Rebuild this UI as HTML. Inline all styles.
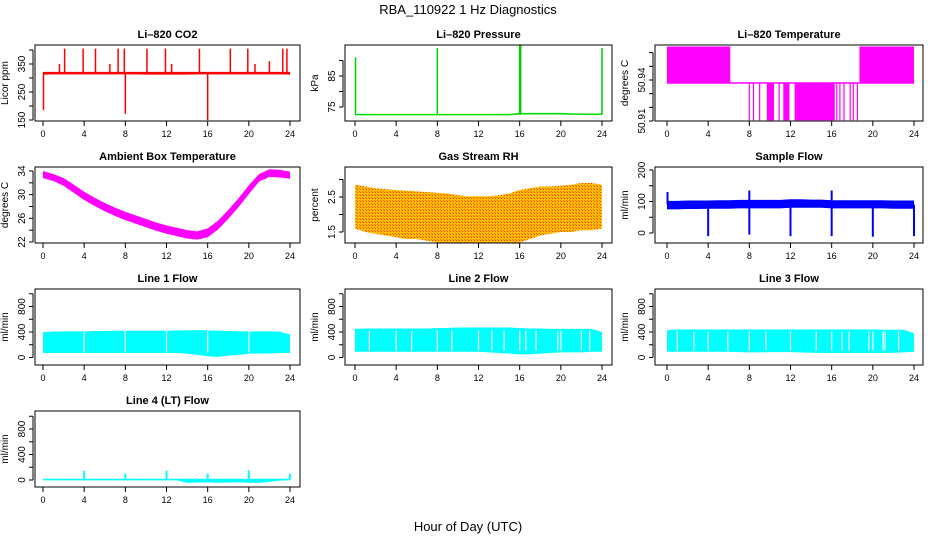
<!DOCTYPE html>
<html><head><meta charset="utf-8"><style>
body{margin:0;background:#fff;}
svg{display:block;font-family:"Liberation Sans",sans-serif;}
</style></head><body>
<svg id="chart" width="936" height="540" viewBox="0 0 936 540">
<defs>
<pattern id="rhpat" width="3" height="3" patternUnits="userSpaceOnUse"><rect width="3" height="3" fill="#ffc000"/><rect width="1" height="1" fill="#ff3000"/><rect x="2" y="2" width="1" height="1" fill="#ff6000"/></pattern>
</defs>
<text x="468" y="14" font-size="13" text-anchor="middle">RBA_110922  1 Hz Diagnostics</text>
<text x="468" y="531" font-size="13" text-anchor="middle">Hour of Day (UTC)</text>
</svg>
<script>
// ---- data (hourly band lo/hi at hours 0..24) ----
const hours = [0,1,2,3,4,5,6,7,8,9,10,11,12,13,14,15,16,17,18,19,20,21,22,23,24];
const xTicks = [0,4,8,12,16,20,24];

const co2Lo = [312,313,313,313,313,313,313,313,313,313,312,312,312,312,312,313,313,313,313,313,313,313,313,313,312];
const co2Hi = [322,322,322,322,322,322,322,322,322,322,322,322,322,322,322,322,322,322,322,322,322,322,322,322,322];
const co2SpikeH = [0.05,2.1,3.9,5.1,7.3,7.9,8.0,10.1,11.9,15.2,16.0,18.2,19.9,23.3,23.7,1.6,6.5,12.5,20.6,22.0];
const co2SpikeV = [185,405,405,405,405,405,172,405,405,405,150,405,405,405,405,350,350,350,350,360];

const presLo = [72.3,72.3,72.3,72.3,72.3,72.3,72.3,72.3,72.3,72.3,72.3,72.3,72.3,72.3,72.3,72.3,72.6,72.6,72.6,72.6,72.6,72.5,72.4,72.4,72.4];
const presHi = [72.8,72.8,72.8,72.8,72.8,72.8,72.8,72.8,72.8,72.8,72.8,72.8,72.8,72.8,72.8,72.8,73.1,73.1,73.1,73.1,73.1,73.0,72.9,72.9,72.9];
const presSpikeH = [0.05,8.0,16.0,16.1,24.0];
const presSpikeV = [91,94,95,95,94];

const tempHighStart = [0,18.7];
const tempHighEnd = [6.15,24];
const tempBlockStart = [9.7,11.3,12.4];
const tempBlockEnd = [10.4,11.9,16.3];
const tempDipH = [8.0,8.4,9.0,10.9,16.5,16.8,17.2,17.8,18.1,18.5];
const tempLevels = [50.9105,50.9378,50.9645];

const ambLo = [32.8,32.3,31.5,30.3,29.1,28.1,27.2,26.4,25.7,25.1,24.5,23.9,23.4,23.0,22.6,22.4,22.8,24.1,25.9,27.9,30.1,32.2,33.0,32.9,32.7];
const ambHi = [34.0,33.5,32.8,31.7,30.5,29.5,28.6,27.8,27.1,26.5,25.9,25.3,24.8,24.4,24.0,23.8,24.3,25.6,27.4,29.4,31.6,33.5,34.3,34.2,33.9];

const rhLo = [1.6,1.5,1.45,1.4,1.35,1.3,1.3,1.25,1.2,1.2,1.2,1.2,1.15,1.15,1.2,1.15,1.2,1.3,1.4,1.45,1.5,1.5,1.55,1.55,1.6];
const rhHi = [2.85,2.8,2.75,2.72,2.7,2.68,2.66,2.64,2.62,2.6,2.55,2.52,2.52,2.52,2.55,2.6,2.7,2.75,2.8,2.8,2.82,2.85,2.9,2.9,2.85];

const sfLo = [75,75,76,76,77,77,77,78,78,78,78,78,80,80,80,80,78,78,78,78,78,78,77,77,77];
const sfHi = [102,102,103,103,103,104,104,105,105,105,105,105,107,107,106,106,104,104,104,104,104,104,103,103,103];
const sfSpikeH = [0.05,4.0,8.0,8.0,12.0,16.0,16.0,20.0,24.0];
const sfSpikeV = [130,-10,135,-5,-10,135,-10,-12,-10];

const l1Lo = [70,70,70,70,70,70,70,70,70,70,70,70,70,70,60,40,20,10,30,40,60,60,60,70,70];
const l1Hi = [400,405,410,410,410,415,415,420,420,420,420,420,420,425,425,430,425,420,415,410,410,410,410,405,360];
const l1GapH = [4.0,8.0,12.0,16.0,20.0];

const l2Lo = [90,90,90,90,90,90,90,90,90,90,90,90,90,80,70,60,50,50,60,70,80,80,80,90,90];
const l2Hi = [450,455,455,455,455,455,455,455,460,465,470,470,470,470,470,470,460,455,455,450,450,450,450,450,400];
const l2GapH = [1.4,4.0,5.5,8.0,9.4,12.0,13.3,14.5,16.0,16.6,17.6,19.7,20.0,22.0,22.8];

const l3Lo = [90,90,90,90,90,90,90,85,80,80,85,85,85,80,75,70,70,70,70,70,70,70,75,80,90];
const l3Hi = [430,440,440,440,440,440,440,440,440,440,440,440,440,440,440,440,440,440,440,440,440,435,435,435,380];
const l3GapH = [1.0,2.6,4.0,5.9,8.0,9.6,12.0,14.5,16.0,17.0,17.7,19.6,20.0,21.0,21.2,22.5];

const l4Lo = [-5,-5,-5,-5,-5,-5,-5,-5,-5,-5,-5,-5,-5,-5,-45,-40,-35,-45,-40,-35,-45,-45,-30,-10,-5];
const l4Hi = [20,20,20,20,20,20,20,20,20,20,20,20,20,20,20,20,20,20,20,20,20,20,20,20,20];
const l4SpikeH = [4.0,8.0,12.0,16.0,20.0,24.0];
const l4SpikeV = [145,100,145,100,150,100];

// ---- layout ----
const colL=[35,345,655], colR=[300,612,923], colX0=[43,355,667], colX24=[290,602,914];
const rowT=[45,167,289,411], boxH=76;
const svg=document.getElementById('chart');
const NS='http://www.w3.org/2000/svg';
function mk(tag,attrs,parent){const e=document.createElementNS(NS,tag);for(const k in attrs)e.setAttribute(k,attrs[k]);(parent||svg).appendChild(e);return e;}

function panel(name,title,ylab,col,row,v1,o1,v2,o2,ticks,labels,draw){
  const g=mk('g',{});
  
  
  const T=rowT[row],L=colL[col],R=colR[col];
  const xs=h=>colX0[col]+(colX24[col]-colX0[col])*h/24;
  const ys=v=>T+o1+(o2-o1)*(v-v1)/(v2-v1);
  const clip=mk('clipPath',{id:'clip'+name},g);
  mk('rect',{x:L,y:T,width:R-L,height:boxH},clip);
  const dg=mk('g',{'clip-path':'url(#clip'+name+')'},g);
  
  
  draw(dg,xs,ys);
  const box=mk('rect',{x:L,y:T,width:R-L,height:boxH,fill:'none',stroke:'#000','stroke-width':1},g);
  
  
  const t=mk('text',{x:(L+R)/2,y:T-7,'font-size':11,'font-weight':'bold','text-anchor':'middle'},g);
  t.textContent=title;
  
  
  mk('line',{x1:xs(0),x2:xs(24),y1:T+boxH,y2:T+boxH,stroke:'#000'},g);
  xTicks.forEach(h=>{
    mk('line',{x1:xs(h),x2:xs(h),y1:T+boxH,y2:T+boxH+5,stroke:'#000'},g);
    const tx=mk('text',{x:xs(h),y:T+boxH+16,'font-size':9,'text-anchor':'middle'},g);
    tx.textContent=h;
    
    
  });
  mk('line',{x1:L-2,x2:L-2,y1:ys(ticks[0]),y2:ys(ticks[ticks.length-1]),stroke:'#000'},g);
  ticks.forEach(v=>mk('line',{x1:L-6,x2:L-2,y1:ys(v),y2:ys(v),stroke:'#000'},g));
  labels.forEach(v=>{
    const y=ys(v);
    const tx=mk('text',{x:L-10,y:y,'font-size':10,'text-anchor':'middle',transform:'rotate(-90 '+(L-10)+' '+y+')'},g);
    tx.textContent=v;
    
    
  });
  const yl=mk('text',{x:L-27,y:T+boxH/2,'font-size':10,'text-anchor':'middle',transform:'rotate(-90 '+(L-27)+' '+(T+boxH/2)+')'},g);
  yl.textContent=ylab;
  
  
}
function band(g,xs,ys,lo,hi,fill){
  let p=hours.map((h,i)=>xs(h)+','+ys(hi[i]));
  for(let i=hours.length-1;i>=0;i--)p.push(xs(hours[i])+','+ys(lo[i]));
  const e=mk('polygon',{points:p.join(' '),fill:fill},g);
  
  
}
function spikes(g,xs,ys,H,V,base,color,w){
  H.forEach((h,i)=>{
    const e=mk('line',{x1:xs(h),x2:xs(h),y1:ys(base),y2:ys(V[i]),stroke:color,'stroke-width':w||1.5},g);
    
    
  });
}
function gaps(g,xs,ys,H,top,bot){
  H.forEach(h=>{
    const e=mk('line',{x1:xs(h),x2:xs(h),y1:ys(top),y2:ys(bot),stroke:'#fff','stroke-width':1.2},g);
    
    
  });
}

panel('co2','Li\u2013820 CO2','Licor ppm',0,0,150,75,350,19,[150,200,250,300,350,400],[150,250,350],(g,xs,ys)=>{
  band(g,xs,ys,co2Lo,co2Hi,'#ff0000');spikes(g,xs,ys,co2SpikeH,co2SpikeV,317,'#ff0000',1.5);
});
panel('pressure','Li\u2013820 Pressure','kPa',1,0,75,62,85,31,[75,80,85,90],[75,85],(g,xs,ys)=>{
  band(g,xs,ys,presLo,presHi,'#00dd00');spikes(g,xs,ys,presSpikeH,presSpikeV,72.5,'#00cc00',1.5);
});
panel('li820-temp','Li\u2013820 Temperature','degrees C',2,0,50.91,76,50.94,35,[50.91,50.92,50.93,50.94,50.95,50.96],[50.91,50.94],(g,xs,ys)=>{
  const [lo,mid,hi]=tempLevels;
  mk('line',{x1:xs(0),x2:xs(24),y1:ys(mid),y2:ys(mid),stroke:'#ff00ff','stroke-width':1.5},g);
  tempHighStart.forEach((s,i)=>{const e=mk('rect',{x:xs(s),y:ys(hi),width:xs(tempHighEnd[i])-xs(s),height:ys(mid)-ys(hi),fill:'#ff00ff'},g);});
  tempBlockStart.forEach((s,i)=>{const e=mk('rect',{x:xs(s),y:ys(mid),width:xs(tempBlockEnd[i])-xs(s),height:ys(lo)-ys(mid),fill:'#ff00ff'},g);});
  tempDipH.forEach(h=>{const e=mk('line',{x1:xs(h),x2:xs(h),y1:ys(mid),y2:ys(lo),stroke:'#ff00ff','stroke-width':1.2},g);});
});
panel('ambient','Ambient Box Temperature','degrees C',0,1,22,75,34,4,[22,24,26,28,30,32,34],[22,26,30,34],(g,xs,ys)=>{
  band(g,xs,ys,ambLo,ambHi,'#ff00ff');
});
panel('rh','Gas Stream RH','percent',1,1,1.5,65,2.5,30,[1.5,2,2.5,3],[1.5,2.5],(g,xs,ys)=>{
  band(g,xs,ys,rhLo,rhHi,'url(#rhpat)');
});
panel('sample-flow','Sample Flow','ml/min',2,1,0,66,200,3,[0,50,100,150,200],[0,100,200],(g,xs,ys)=>{
  band(g,xs,ys,sfLo,sfHi,'#0000ff');spikes(g,xs,ys,sfSpikeH,sfSpikeV,90,'#0000ff',2);
});
panel('line1','Line 1 Flow','ml/min',0,2,0,68.5,800,17.5,[0,200,400,600,800,1000],[0,400,800],(g,xs,ys)=>{
  band(g,xs,ys,l1Lo,l1Hi,'#00ffff');gaps(g,xs,ys,l1GapH,440,80);
});
panel('line2','Line 2 Flow','ml/min',1,2,0,68.5,800,17.5,[0,200,400,600,800,1000],[0,400,800],(g,xs,ys)=>{
  band(g,xs,ys,l2Lo,l2Hi,'#00ffff');gaps(g,xs,ys,l2GapH,420,110);
});
panel('line3','Line 3 Flow','ml/min',2,2,0,68.5,800,17.5,[0,200,400,600,800,1000],[0,400,800],(g,xs,ys)=>{
  band(g,xs,ys,l3Lo,l3Hi,'#00ffff');gaps(g,xs,ys,l3GapH,410,110);
});
panel('line4','Line 4 (LT) Flow','ml/min',0,3,0,69,800,18,[0,200,400,600,800,1000],[0,400,800],(g,xs,ys)=>{
  band(g,xs,ys,l4Lo,l4Hi,'#00ffff');spikes(g,xs,ys,l4SpikeH,l4SpikeV,10,'#00ffff',2);
});
</script>
</body></html>
